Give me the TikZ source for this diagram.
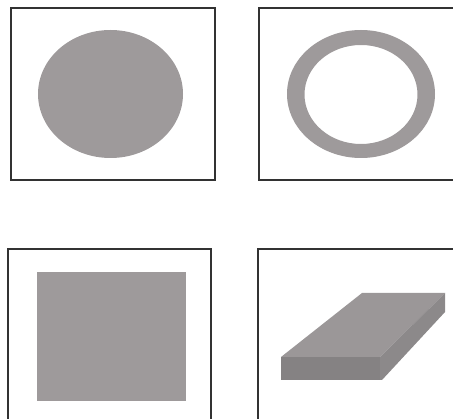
\documentclass[tikz,border=0pt]{standalone}
\definecolor{shapegray}{RGB}{158,154,155}
\definecolor{topgray}{RGB}{155,151,152}
\definecolor{frontgray}{RGB}{133,130,131}
\definecolor{sidegray}{RGB}{140,137,138}
\definecolor{framegray}{RGB}{50,50,50}
\tikzset{frame/.style={draw=framegray,line width=1.3pt}}
\begin{document}
\begin{tikzpicture}[x=1pt,y=-1pt]
\useasboundingbox (0,0) rectangle (453,419);
\clip (0,0) rectangle (453,419);
% frames
\draw[frame] (11,8) rectangle (215,180);
\draw[frame] (259,8) rectangle (470,180);
\draw[frame] (8,249) rectangle (211,430);
\draw[frame] (258,249) rectangle (470,430);
% filled ellipse
\fill[shapegray] (110.5,94) ellipse [x radius=72.5, y radius=64];
% ring
\fill[shapegray,even odd rule] (361,94) ellipse [x radius=74, y radius=64]
  (361,94.5) ellipse [x radius=56.5, y radius=49.5];
% square
\fill[shapegray] (37,272) rectangle (186,401);
% slab
\fill[topgray] (281,357) -- (362,293) -- (445,293) -- (380,357) -- cycle;
\fill[frontgray] (281,357) rectangle (381,380);
\fill[sidegray] (380,357) -- (445,293) -- (445,312) -- (382,380) -- (380,380) -- cycle;
\end{tikzpicture}
\end{document}
